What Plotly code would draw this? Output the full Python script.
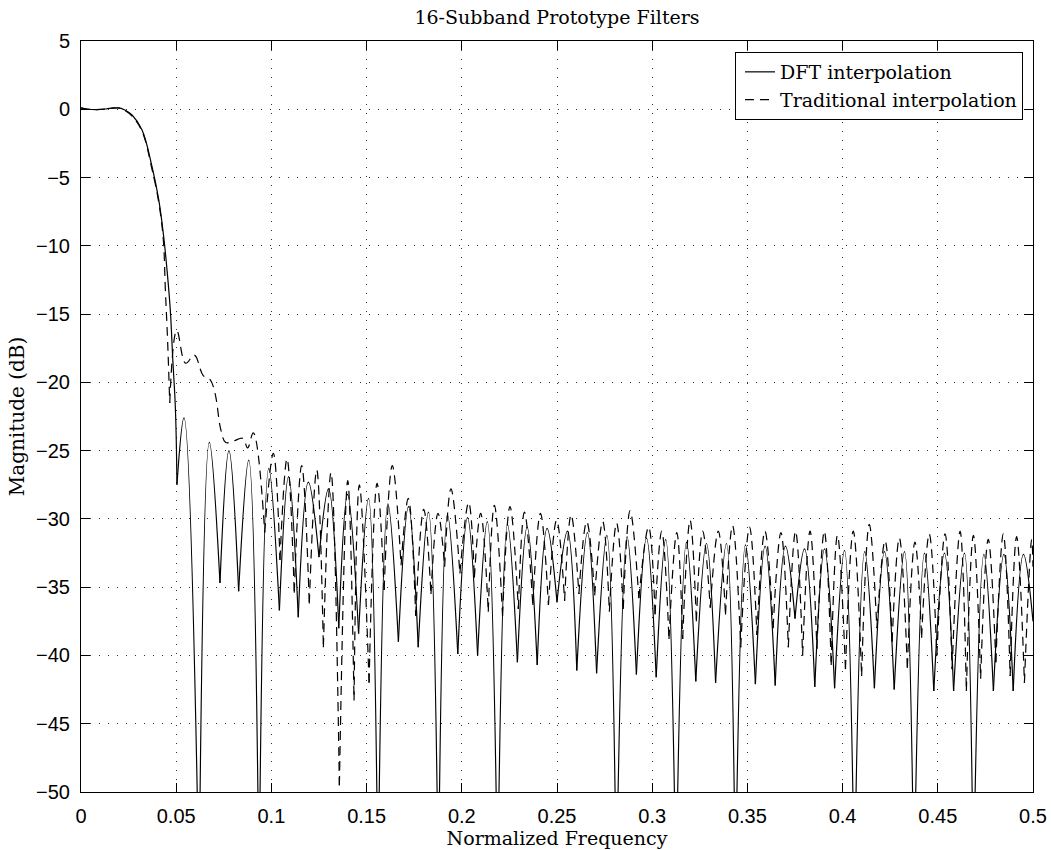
import plotly.graph_objects as go

# ---------------- data ----------------
# DFT interpolation (solid): passband + transition band
dft_main_f = [0.000, 0.003, 0.008, 0.013, 0.017, 0.020, 0.023, 0.0268, 0.0320, 0.0373,
              0.0408, 0.0434, 0.0452, 0.0469, 0.0482, 0.0496, 0.0504]
dft_main_db = [0.10, 0.02, -0.02, 0.02, 0.10, 0.10, -0.05, -0.42, -1.5, -4.2,
               -6.6, -9.3, -11.8, -14.7, -18.3, -22.0, -27.5]
# DFT interpolation: stop-band nulls (deep nulls drop below the axis)
dft_null_f = [0.0504, 0.0620, 0.0730, 0.0828, 0.0935, 0.1042, 0.1141, 0.1250, 0.1354, 0.1458,
              0.1560, 0.1667, 0.1771, 0.1877, 0.1979, 0.2083, 0.2188, 0.2292, 0.2396, 0.2500,
              0.2604, 0.2708, 0.2812, 0.2917, 0.3021, 0.3125, 0.3229, 0.3333, 0.3437, 0.3542,
              0.3646, 0.3750, 0.3854, 0.3958, 0.4062, 0.4167, 0.4271, 0.4375, 0.4479, 0.4583,
              0.4687, 0.4792, 0.4896, 0.5000]
dft_null_db = [-27.5, -57, -34.7, -35.3, -57, -36.7, -37.2, -32.8, -38.0, -38.4,
               -57, -39.0, -39.4, -57, -39.9, -40.0, -57, -40.5, -40.7, -36.1,
               -41.1, -41.3, -57, -41.4, -41.6, -57, -41.9, -42.0, -57, -42.1,
               -42.2, -37.3, -42.3, -42.4, -57, -42.4, -42.5, -57, -42.6, -42.6,
               -57, -42.6, -42.6, -37.5]
# DFT interpolation: side-lobe peaks
dft_peak_f = [0.0541, 0.0674, 0.0777, 0.0881, 0.0986, 0.1090, 0.1194, 0.1300, 0.1400, 0.1510,
              0.1612, 0.1720, 0.1825, 0.1925, 0.2030, 0.2134, 0.2240, 0.2343, 0.2448, 0.2555,
              0.2660, 0.2762, 0.2868, 0.2970, 0.3071, 0.3180, 0.3285, 0.3390, 0.3490, 0.3593,
              0.3700, 0.3800, 0.3905, 0.4010, 0.4116, 0.4220, 0.4325, 0.4430, 0.4535, 0.4640,
              0.4742, 0.4847, 0.4950]
dft_peak_db = [-22.6, -24.4, -25.0, -25.7, -26.3, -26.9, -27.3, -27.8, -28.2, -28.5,
               -28.9, -29.1, -29.5, -29.7, -29.9, -30.2, -30.4, -30.6, -30.7, -30.9,
               -31.0, -31.2, -31.3, -31.4, -31.5, -31.7, -31.8, -31.8, -31.9, -32.0,
               -32.0, -32.2, -32.2, -32.3, -32.4, -32.4, -32.4, -32.5, -32.5, -32.5,
               -32.6, -32.6, -32.6]

# Traditional interpolation (dashed): passband + transition band
trad_main_f = [0.000, 0.003, 0.008, 0.013, 0.017, 0.020, 0.023, 0.0268, 0.0320, 0.0373,
               0.0408, 0.0432, 0.0443, 0.0455, 0.0466]
trad_main_db = [0.10, 0.02, -0.02, 0.02, 0.08, 0.08, -0.08, -0.50, -1.6, -4.4,
                -6.8, -9.5, -13.2, -17.0, -21.5]
# Traditional interpolation: irregular early stop band
trad_mid_f = [0.0466, 0.0503, 0.0550, 0.0595, 0.0642, 0.0678, 0.0704, 0.0735, 0.0760,
              0.0800, 0.0850, 0.0875, 0.0905, 0.0965]
trad_mid_db = [-21.5, -16.2, -18.6, -18.0, -19.5, -19.8, -20.8, -23.5, -24.4,
               -24.3, -24.1, -24.8, -23.7, -31.0]
# Traditional interpolation: nulls
trad_null_f = [0.0965, 0.1045, 0.1120, 0.1199, 0.1273, 0.1357, 0.1434, 0.1513, 0.1592, 0.1681,
               0.1758, 0.1838, 0.1910, 0.1990, 0.2066, 0.2139, 0.2214, 0.2297, 0.2373, 0.2455,
               0.2540, 0.2615, 0.2698, 0.2775, 0.2848, 0.2930, 0.3015, 0.3088, 0.3160, 0.3232,
               0.3305, 0.3385, 0.3465, 0.3550, 0.3635, 0.3715, 0.3790, 0.3865, 0.3940, 0.4015,
               0.4100, 0.4180, 0.4260, 0.4340, 0.4415, 0.4495, 0.4575, 0.4650, 0.4725, 0.4805,
               0.4880, 0.4955, 0.5000]
trad_null_db = [-31.0, -33.0, -35.4, -36.2, -39.4, -49.5, -43.3, -42.0, -35.2, -33.4,
                -37.1, -35.5, -33.5, -34.0, -34.3, -36.8, -37.1, -36.6, -36.3, -36.3,
                -36.0, -35.5, -35.6, -36.8, -36.6, -35.8, -37.0, -38.8, -38.8, -37.5,
                -36.5, -37.0, -39.4, -38.5, -38.0, -39.4, -40.0, -39.5, -40.7, -41.0,
                -41.5, -38.0, -39.0, -40.9, -38.7, -40.0, -41.0, -42.6, -41.7, -40.5,
                -41.5, -42.0, -33.5]
# Traditional interpolation: peaks
trad_peak_f = [0.1010, 0.1082, 0.1159, 0.1238, 0.1313, 0.1401, 0.1462, 0.1555, 0.1635, 0.1719,
               0.1800, 0.1875, 0.1943, 0.2036, 0.2099, 0.2171, 0.2253, 0.2329, 0.2413, 0.2498,
               0.2574, 0.2656, 0.2740, 0.2813, 0.2884, 0.2981, 0.3050, 0.3129, 0.3199, 0.3265,
               0.3347, 0.3422, 0.3511, 0.3592, 0.3676, 0.3753, 0.3829, 0.3904, 0.3973, 0.4056,
               0.4140, 0.4223, 0.4298, 0.4380, 0.4455, 0.4538, 0.4617, 0.4687, 0.4765, 0.4844,
               0.4914, 0.4993]
trad_peak_db = [-25.2, -25.6, -26.1, -26.4, -26.6, -27.2, -27.5, -27.4, -26.1, -28.5,
                -29.3, -29.6, -27.8, -28.8, -29.6, -29.0, -29.1, -29.5, -29.6, -30.1,
                -29.7, -30.2, -30.2, -30.3, -29.4, -30.6, -30.9, -31.0, -30.1, -30.9,
                -30.9, -30.5, -30.6, -30.9, -31.0, -30.9, -30.9, -30.9, -31.2, -30.9,
                -30.4, -31.6, -31.4, -31.7, -31.1, -31.1, -30.9, -31.2, -31.5, -31.1,
                -31.3, -31.5]

xtick_vals = [0, 0.05, 0.1, 0.15, 0.2, 0.25, 0.3, 0.35, 0.4, 0.45, 0.5]
xtick_text = ["0", "0.05", "0.1", "0.15", "0.2", "0.25", "0.3", "0.35", "0.4", "0.45", "0.5"]

title_text = "16-Subband Prototype Filters"
x_title = "Normalized Frequency"
y_title = "Magnitude (dB)"
names = ["DFT interpolation", "Traditional interpolation"]


# ---------------- build traces ----------------
def pieces(segments, null_f, null_db, peak_f, peak_db):
    xs, ys = [], []
    for sf, sd in segments:
        xs += list(sf) + [None]
        ys += list(sd) + [None]
    for i in range(len(peak_f)):
        xs += [null_f[i], peak_f[i], null_f[i + 1], None]
        ys += [null_db[i], peak_db[i], null_db[i + 1], None]
    return xs, ys


dx, dy = pieces([(dft_main_f, dft_main_db)], dft_null_f, dft_null_db, dft_peak_f, dft_peak_db)
tx, ty = pieces([(trad_main_f, trad_main_db), (trad_mid_f, trad_mid_db)],
                trad_null_f, trad_null_db, trad_peak_f, trad_peak_db)

fig = go.Figure()
fig.add_trace(go.Scatter(x=dx, y=dy, mode="lines", name=names[0], connectgaps=False,
                         line=dict(color="black", width=1.2, shape="spline", smoothing=1.1,
                                   simplify=False)))
fig.add_trace(go.Scatter(x=tx, y=ty, mode="lines", name=names[1], connectgaps=False,
                         line=dict(color="black", width=1.2, dash="9px,6px", shape="spline",
                                   smoothing=1.1, simplify=False)))

serif = "DejaVu Serif"
sans = "Liberation Sans, Arial, Helvetica, sans-serif"

axis_common = dict(
    ticks="inside", ticklen=9, tickwidth=1, tickcolor="black",
    showline=True, linecolor="black", linewidth=1, mirror="ticks",
    showgrid=True, gridcolor="#333333", gridwidth=1, griddash="1px,8px",
    zeroline=False,
    tickfont=dict(family=sans, size=20, color="black"),
)

fig.update_layout(
    width=1051, height=850,
    margin=dict(l=81, r=18, t=41, b=58, autoexpand=False),
    paper_bgcolor="white", plot_bgcolor="white",
    title=dict(text=title_text, x=0.5, xref="paper", xanchor="center",
               y=1 - 17 / 850, yanchor="middle", yref="container",
               font=dict(family=serif, size=19, color="black")),
    xaxis=dict(range=[0, 0.5], tickvals=xtick_vals, ticktext=xtick_text,
               ticklabelstandoff=6,
               title=dict(text=x_title, standoff=4, font=dict(family=serif, size=19, color="black")),
               **axis_common),
    yaxis=dict(range=[-50, 5], dtick=5, tick0=0, ticklabelstandoff=6,
               title=dict(text=y_title, standoff=6, font=dict(family=serif, size=20, color="black")),
               **axis_common),
    showlegend=True,
    legend=dict(x=1 - 10 / 952, xanchor="right", y=1 - 11 / 751, yanchor="top",
                bgcolor="white", bordercolor="black", borderwidth=1,
                font=dict(family=serif, size=19, color="black"),
                tracegroupgap=0, indentation=4),
)

fig.write_html("out.html")
